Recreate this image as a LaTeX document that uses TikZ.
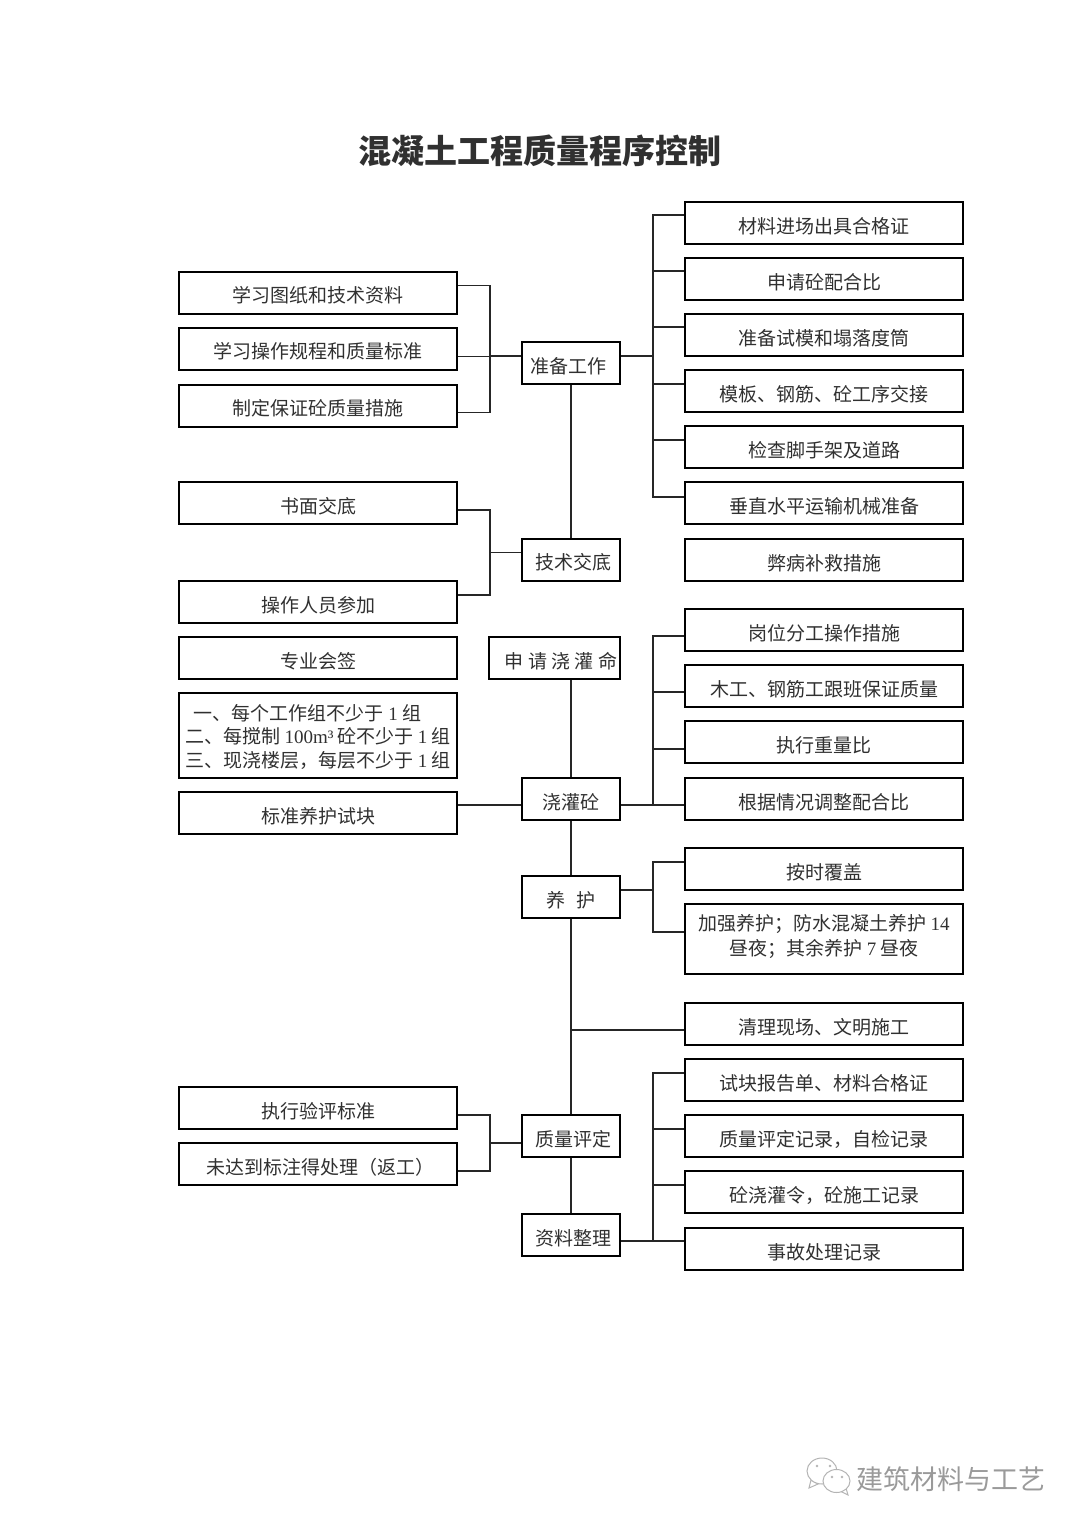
\documentclass[tikz,border=0pt]{standalone}
\usepackage{fontspec}
\setmainfont{Noto Sans CJK SC}
\newfontfamily\latfont{Liberation Serif}
\usepackage{xcolor}
\definecolor{inkc}{HTML}{303030}
\definecolor{markc}{HTML}{9A9A9A}
\definecolor{markl}{HTML}{B4B4B4}
\tikzset{
  basebox/.style={draw=black, line width=2pt, rectangle, inner sep=0pt, text=inkc, font=\fontsize{19}{23.5}\selectfont, minimum height=42pt, text height=20pt, text depth=0pt},
  sidebox/.style={basebox, minimum width=278pt},
  midbox/.style={basebox, minimum width=98pt},
  tallbox/.style={sidebox, align=center},
  conn/.style={line width=1.5pt, black!85},
}
\begin{document}
\begin{tikzpicture}[x=1pt,y=-1pt]
\useasboundingbox (0,0) rectangle (1080,1527);
\node [text=inkc, font=\fontsize{33}{36}\selectfont\bfseries] (title) at (540,151) {混凝土工程质量程序控制};

\node [sidebox] (cailiao) at (824,223) {材料进场出具合格证};
\node [sidebox] (peihebi) at (824,279) {申请砼配合比};
\node [sidebox] (shimo) at (824,335) {准备试模和塌落度筒};
\node [sidebox] (moban) at (824,391) {模板、钢筋、砼工序交接};
\node [sidebox] (jiaoshou) at (824,447) {检查脚手架及道路};
\node [sidebox] (yunshu) at (824,503) {垂直水平运输机械准备};
\node [sidebox] (bibing) at (824,560) {弊病补救措施};
\node [sidebox] (gangwei) at (824,630) {岗位分工操作措施};
\node [sidebox] (mugong) at (824,686) {木工、钢筋工跟班保证质量};
\node [sidebox] (zhongliang) at (824,742) {执行重量比};
\node [sidebox] (tiaozheng) at (824,799) {根据情况调整配合比};
\node [sidebox] (fugai) at (824,869) {按时覆盖};
\node [tallbox, minimum height=70pt, text height=32pt, font=\fontsize{19}{25}\selectfont] (jiaqiang) at (824,939) {加强养护；防水混凝土养护 {\latfont 14}\\昼夜；其余养护 {\latfont 7} 昼夜};
\node [sidebox] (qingli) at (824,1024) {清理现场、文明施工};
\node [sidebox] (baogao) at (824,1080) {试块报告单、材料合格证};
\node [sidebox] (jilu) at (824,1136) {质量评定记录，自检记录};
\node [sidebox] (jiaoguanling) at (824,1192) {砼浇灌令，砼施工记录};
\node [sidebox] (shigu) at (824,1249) {事故处理记录};

\node [sidebox] (tuzhi) at (318,292.5) {学习图纸和技术资料};
\node [sidebox] (guicheng) at (318,348.5) {学习操作规程和质量标准};
\node [sidebox] (cuoshi) at (318,405.5) {制定保证砼质量措施};
\node [sidebox] (shumian) at (318,503) {书面交底};
\node [sidebox] (renyuan) at (318,602) {操作人员参加};
\node [sidebox] (huiqian) at (318,658) {专业会签};
\node [tallbox, minimum height=85pt, text height=63pt] (shikuai) at (318,735.5) {\hspace{-21pt}一、每个工作组不少于 {\latfont 1} 组\\二、每搅制 {\latfont 100m³} 砼不少于 {\latfont 1} 组\\三、现浇楼层，每层不少于 {\latfont 1} 组};
\node [sidebox] (biaoyang) at (318,813) {标准养护试块};
\node [sidebox] (yanping) at (318,1108) {执行验评标准};
\node [sidebox] (fangong) at (318,1164) {\hspace{4pt}未达到标注得处理（返工）};

\node [midbox] (zhunbei) at (571,363) {\hspace{-5pt}准备工作};
\node [midbox] (jiaodi) at (571,559.5) {\hspace{4pt}技术交底};
\node [basebox, minimum width=131pt] (shenqing) at (554.5,658) {\hspace{13pt}申 请 浇 灌 命};
\node [midbox] (jiaoguan) at (571,799) {浇灌砼};
\node [midbox] (yanghu) at (571,897) {养\hspace{0.6em}护};
\node [midbox] (pingding) at (571,1136) {\hspace{4pt}质量评定};
\node [midbox] (ziliao) at (571,1235) {\hspace{4pt}资料整理};

\coordinate (rbusa) at (653,356);
\coordinate (lbusa) at (490,356);
\coordinate (lbusb) at (490,552.5);
\coordinate (rbusb) at (653,805);
\coordinate (rbusc) at (653,890);
\coordinate (rbusd) at (653,1241);
\coordinate (lbusc) at (490,1143);
\coordinate (spine) at (571,1030);

\foreach \n/\s in {cailiao/8,peihebi/8,shimo/8,moban/7,jiaoshou/7,yunshu/6}
  \draw [conn] ([yshift=\s pt]\n.west) -| (rbusa);
\draw [conn] ([yshift=7pt]zhunbei.east) -- (rbusa);
\foreach \n/\s in {tuzhi/7,guicheng/-8,cuoshi/-7}
  \draw [conn] ([yshift=\s pt]\n.east) -| (lbusa);
\draw [conn] ([yshift=7pt]zhunbei.west) -- (lbusa);
\foreach \n/\s in {shumian/-7,renyuan/7}
  \draw [conn] ([yshift=\s pt]\n.east) -| (lbusb);
\draw [conn] ([yshift=7pt]jiaodi.west) -- (lbusb);
\foreach \n/\s in {gangwei/-6,mugong/-6,zhongliang/-7,tiaozheng/-6}
  \draw [conn] ([yshift=\s pt]\n.west) -| (rbusb);
\draw [conn] ([yshift=-6pt]jiaoguan.east) -- (rbusb);
\draw [conn] ([yshift=-6pt]jiaoguan.west) -- (biaoyang.east |- rbusb);
\foreach \n/\s in {fugai/7,jiaqiang/7}
  \draw [conn] ([yshift=\s pt]\n.west) -| (rbusc);
\draw [conn] ([yshift=7pt]yanghu.east) -- (rbusc);
\foreach \n/\s in {baogao/7,jilu/7,jiaoguanling/7,shigu/8}
  \draw [conn] ([yshift=\s pt]\n.west) -| (rbusd);
\draw [conn] ([yshift=-6pt]ziliao.east) -- (rbusd);
\foreach \n/\s in {yanping/-7,fangong/-7}
  \draw [conn] ([yshift=\s pt]\n.east) -| (lbusc);
\draw [conn] ([yshift=-7pt]pingding.west) -- (lbusc);

\draw [conn] (zhunbei.south) -- (jiaodi.north);
\draw [conn] (jiaoguan.north |- shenqing.south) -- (jiaoguan.north);
\draw [conn] (jiaoguan.south) -- (yanghu.north);
\draw [conn] (yanghu.south) -- (pingding.north);
\draw [conn] (pingding.south) -- (ziliao.north);
\draw [conn] ([yshift=-6pt]qingli.west) -- (spine);

\draw [markl, line width=1pt, fill=white] (811,1480) -- (809,1488) -- (818,1484) -- cycle;
\draw [markl, line width=1pt, fill=white] (822,1471) ellipse [x radius=15, y radius=13];
\draw [markl, line width=1pt, fill=white] (846,1488) -- (848,1495) -- (840,1491) -- cycle;
\draw [markl, line width=1pt, fill=white] (836.5,1481) ellipse [x radius=13.5, y radius=11.5];
\fill [markl] (817,1466) circle [radius=1.4] (830,1466) circle [radius=1.4] (832,1477) circle [radius=1.4] (842,1477) circle [radius=1.4];
\node [text=markc, font=\fontsize{27}{27}\selectfont] (mark) at (951,1479) {建筑材料与工艺};
\end{tikzpicture}
\end{document}
